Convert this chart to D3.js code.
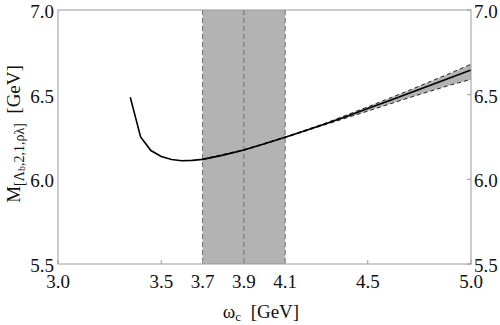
<!DOCTYPE html>
<html>
<head>
<meta charset="utf-8">
<script src="https://cdn.jsdelivr.net/npm/d3@7"></script>
<style>
body { margin: 0; background: #fff; }
svg text { font-family: "Liberation Serif", "Times New Roman", serif; fill: #111; }
</style>
</head>
<body>
<svg width="500" height="325"></svg>
<script>
// central curve
var omega = [3.35, 3.40, 3.45, 3.50, 3.55, 3.60, 3.65, 3.70, 3.80, 3.90, 4.00, 4.10, 4.20, 4.30, 4.40, 4.50, 4.60, 4.70, 4.80, 4.90, 5.00];
var mass  = [6.485, 6.25, 6.17, 6.135, 6.117, 6.110, 6.112, 6.118, 6.143, 6.173, 6.210, 6.248, 6.288, 6.330, 6.373, 6.418, 6.463, 6.508, 6.554, 6.600, 6.645];
// error band
var bandX  = [3.70, 3.90, 4.10, 4.30, 4.50, 4.70, 4.90, 5.00];
var bandHi = [6.120, 6.175, 6.250, 6.334, 6.428, 6.525, 6.627, 6.680];
var bandLo = [6.116, 6.171, 6.246, 6.325, 6.403, 6.482, 6.557, 6.590];
// shaded window
var winLo = 3.7, winMid = 3.9, winHi = 4.1;
var xTicks = [3.0, 3.5, 3.7, 3.9, 4.1, 4.5, 5.0];
var yTicks = [5.5, 6.0, 6.5, 7.0];

var svg = d3.select("svg");
var pLeft = 58, pRight = 471, pTop = 10, pBottom = 264;

var x = d3.scaleLinear().domain([3.0, 5.0]).range([pLeft, pRight]);
var y = d3.scaleLinear().domain([5.5, 7.0]).range([pBottom, pTop]);

// window band
svg.append("rect")
    .attr("x", x(winLo)).attr("y", pTop)
    .attr("width", x(winHi) - x(winLo)).attr("height", pBottom - pTop)
    .attr("fill", "#b3b3b3");
[winLo, winMid, winHi].forEach(function (v) {
	svg.append("line")
	    .attr("x1", x(v)).attr("x2", x(v))
	    .attr("y1", pTop).attr("y2", pBottom)
	    .attr("stroke", "#6e6e6e").attr("stroke-width", 1)
	    .attr("stroke-dasharray", "5,3");
});

// error band
var band = bandX.map(function (d, i) { return [d, bandLo[i], bandHi[i]]; });
svg.append("path")
    .datum(band)
    .attr("fill", "#b3b3b3")
    .attr("d", d3.area().x(function (d) { return x(d[0]); })
        .y0(function (d) { return y(d[1]); })
        .y1(function (d) { return y(d[2]); }));
[bandLo, bandHi].forEach(function (arr) {
	svg.append("path")
	    .datum(bandX.map(function (d, i) { return [d, arr[i]]; }))
	    .attr("fill", "none").attr("stroke", "#222").attr("stroke-width", 1)
	    .attr("stroke-dasharray", "4,3")
	    .attr("d", d3.line().x(function (d) { return x(d[0]); }).y(function (d) { return y(d[1]); }));
});

// central line
svg.append("path")
    .datum(omega.map(function (d, i) { return [d, mass[i]]; }))
    .attr("fill", "none").attr("stroke", "#000").attr("stroke-width", 1.6)
    .attr("d", d3.line().x(function (d) { return x(d[0]); }).y(function (d) { return y(d[1]); }));

// frame
svg.append("rect")
    .attr("x", pLeft).attr("y", pTop)
    .attr("width", pRight - pLeft).attr("height", pBottom - pTop)
    .attr("fill", "none").attr("stroke", "#9a9a9a").attr("stroke-width", 1);

// ticks
xTicks.forEach(function (t) {
	svg.append("line")
	    .attr("x1", x(t)).attr("x2", x(t)).attr("y1", pBottom).attr("y2", pBottom - 4)
	    .attr("stroke", "#9a9a9a");
	svg.append("text")
	    .attr("x", x(t)).attr("y", 288)
	    .attr("text-anchor", "middle").attr("font-size", 19)
	    .text(d3.format(".1f")(t));
});
yTicks.forEach(function (t) {
	svg.append("line")
	    .attr("x1", pRight).attr("x2", pRight - 4).attr("y1", y(t)).attr("y2", y(t))
	    .attr("stroke", "#9a9a9a");
	svg.append("text")
	    .attr("x", 54).attr("y", y(t) + 8)
	    .attr("text-anchor", "end").attr("font-size", 19)
	    .text(d3.format(".1f")(t));
	svg.append("text")
	    .attr("x", 474).attr("y", y(t) + 8)
	    .attr("text-anchor", "start").attr("font-size", 19)
	    .text(d3.format(".1f")(t));
});

// axis titles
var xt = svg.append("text")
    .attr("x", 261).attr("y", 318)
    .attr("text-anchor", "middle").attr("font-size", 19);
xt.append("tspan").text("ω");
xt.append("tspan").attr("font-size", 13).attr("dy", 3).text("c");
xt.append("tspan").attr("dy", -3).text("\u00a0\u00a0[GeV]");

var yt = svg.append("text")
    .attr("transform", "translate(20,134) rotate(-90)")
    .attr("text-anchor", "middle").attr("font-size", 19);
yt.append("tspan").text("M");
yt.append("tspan").attr("font-size", 14).attr("dy", 4).text("[Λ");
yt.append("tspan").attr("font-size", 10).attr("dy", 1).text("b");
yt.append("tspan").attr("font-size", 14).attr("dy", -1).text(",2,1,ρλ]");
yt.append("tspan").attr("dy", -4).text("\u00a0\u00a0[GeV]");
</script>
</body>
</html>
